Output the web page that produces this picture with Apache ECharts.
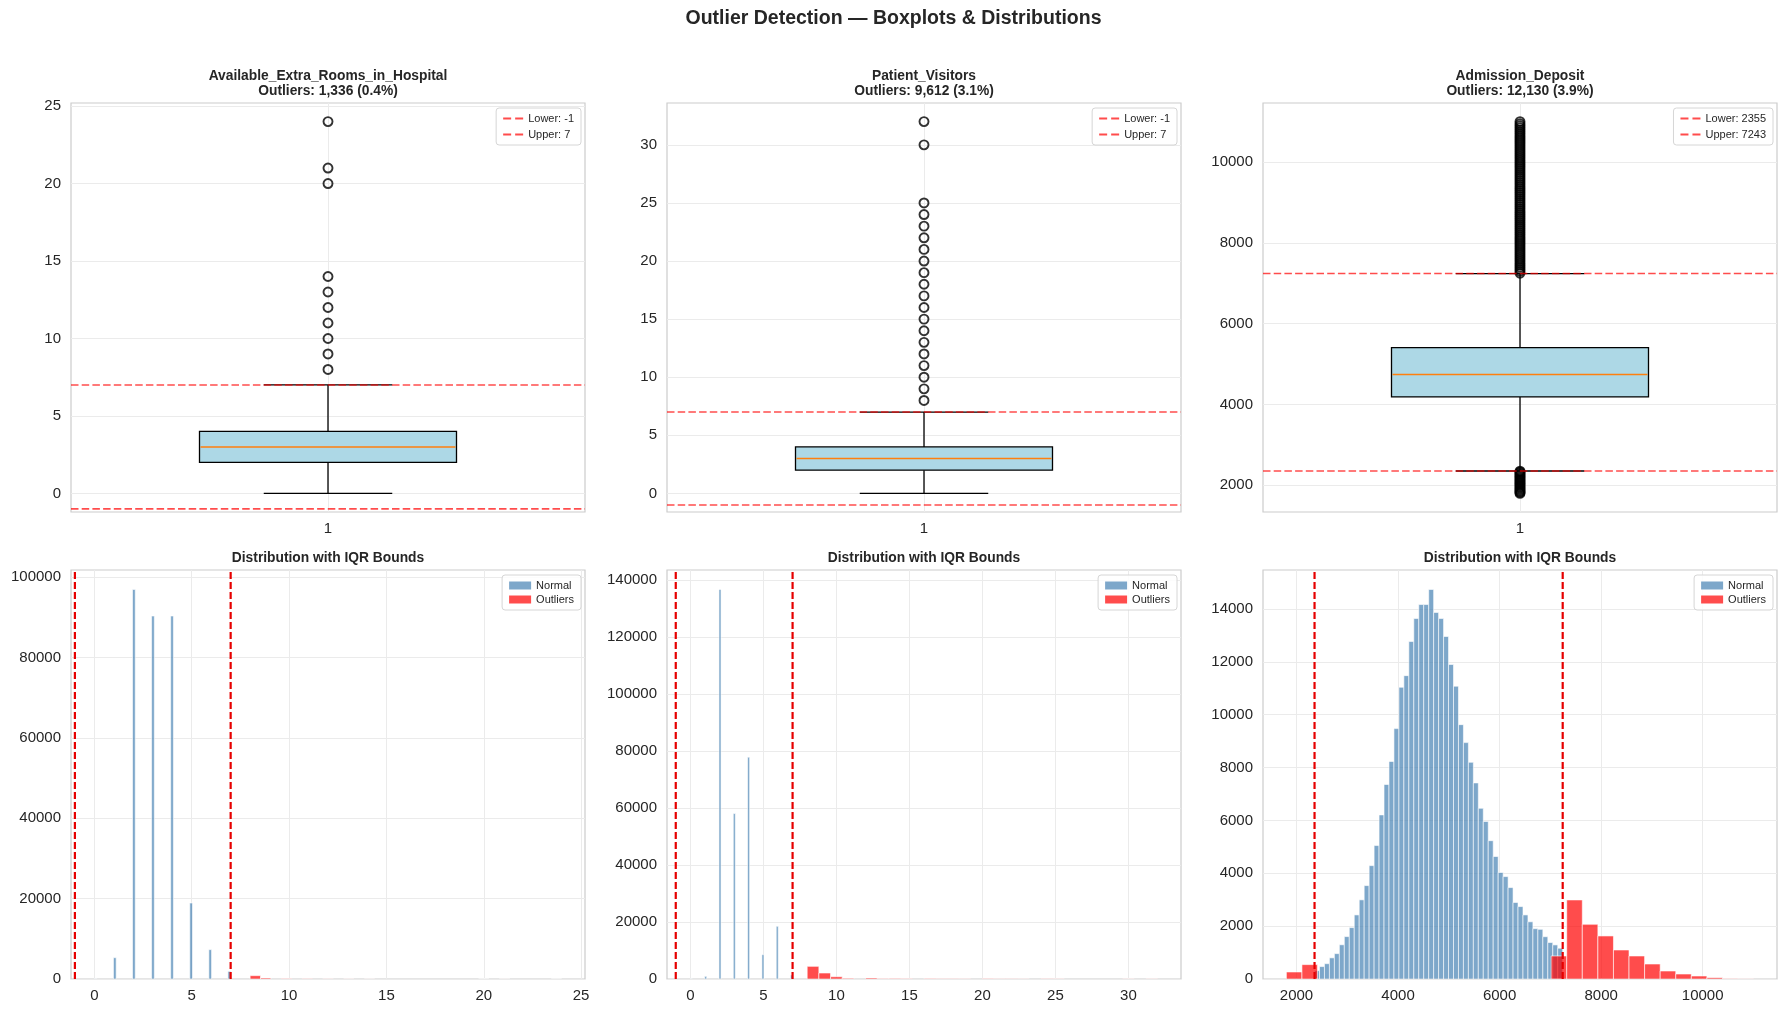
<!DOCTYPE html>
<html>
<head>
<meta charset="utf-8">
<script src="https://cdn.jsdelivr.net/npm/echarts@6.0.0/dist/echarts.min.js"></script>
<style>
html,body{margin:0;padding:0;background:#ffffff;}
#c{width:1787px;height:1013px;}
</style>
</head>
<body>
<div id="c"></div>
<script>
// ---------------- DATA ----------------
const variableNames = ['Available_Extra_Rooms_in_Hospital', 'Patient_Visitors', 'Admission_Deposit'];
const outlierSummary = ['Outliers: 1,336 (0.4%)', 'Outliers: 9,612 (3.1%)', 'Outliers: 12,130 (3.9%)'];

// boxplot stats: [lower whisker, Q1, median, Q3, upper whisker]
const roomsBox = [0, 2, 3, 4, 7];
const visitorsBox = [0, 2, 3, 4, 7];
const depositBox = [2355, 4188, 4745, 5410, 7243];

// IQR bounds [lower, upper]
const roomsBounds = [-1, 7];
const visitorsBounds = [-1, 7];
const depositBounds = [2355, 7243];

// outlier points shown by the boxplots
const roomsOutliers = [8, 9, 10, 11, 12, 13, 14, 20, 21, 24];
const visitorsOutliers = [8, 9, 10, 11, 12, 13, 14, 15, 16, 17, 18, 19, 20, 21, 22, 23, 24, 25, 30, 32];
const depositOutliers = [1800, 1825, 1850, 1880, 1910, 1940, 1970, 2000, 2030, 2060, 2090, 2120, 2150, 2180, 2210, 2240, 2270, 2300, 2330, 2350,
  7250, 7300, 7350, 7400, 7450, 7500, 7550, 7600, 7650, 7700, 7750, 7800, 7850, 7900, 7950, 8000, 8050, 8100, 8150, 8200,
  8250, 8300, 8350, 8400, 8450, 8500, 8550, 8600, 8650, 8700, 8750, 8800, 8850, 8900, 8950, 9000, 9050, 9100, 9150, 9200,
  9250, 9300, 9350, 9400, 9450, 9500, 9550, 9600, 9650, 9700, 9750, 9800, 9850, 9900, 9950, 10000, 10050, 10100, 10150,
  10200, 10250, 10300, 10350, 10400, 10450, 10500, 10550, 10600, 10650, 10700, 10750, 10800, 10850, 10900, 10950, 11004];

// histogram of discrete values (value -> count)
const roomsNormalValues = [0, 1, 2, 3, 4, 5, 6, 7];
const roomsNormalCounts = [40, 5300, 96900, 90300, 90300, 18900, 7300, 1900];
const roomsOutlierValues = [8, 9, 10, 11, 12, 13, 14, 20, 21, 24];
const roomsOutlierCounts = [830, 250, 110, 60, 35, 20, 12, 6, 8, 5];

const visitorsNormalValues = [0, 1, 2, 3, 4, 5, 6, 7];
const visitorsNormalCounts = [60, 940, 136700, 58060, 77840, 8545, 18500, 1400];
const visitorsOutlierValues = [8, 9, 10, 11, 12, 13, 14, 15, 16, 17, 18, 19, 20, 21, 22, 23, 24, 25, 30, 32];
const visitorsOutlierCounts = [4450, 2100, 800, 250, 350, 150, 200, 120, 180, 80, 90, 60, 150, 60, 70, 50, 80, 60, 50, 50];

// histogram bins of Admission_Deposit (50 normal bins, 30 outlier bins)
const depositNormalRange = [2355, 7243];
const depositNormalCounts = [316, 470, 580, 800, 960, 1295, 1605, 1945, 2425, 2995,
  3535, 4290, 5050, 6210, 7360, 8230, 9475, 11040, 11480, 12770,
  13640, 14170, 14170, 14740, 13870, 13640, 12960, 11900, 11080, 9625,
  8945, 8200, 7420, 6460, 5960, 5235, 4635, 4030, 3875, 3460,
  2895, 2740, 2425, 2165, 1905, 1880, 1600, 1380, 1290, 1165];
const depositOutlierRange = [1800, 11004];
const depositOutlierCounts = [266, 544, 0, 0, 0, 0, 0, 0, 0, 0,
  0, 0, 0, 0, 0, 0, 0, 871, 2992, 2071,
  1629, 1098, 871, 568, 303, 189, 114, 50, 13, 5];

// tick labels
const roomsTicks = [0, 5, 10, 15, 20, 25];
const visitorsTicks = [0, 5, 10, 15, 20, 25, 30];
const depositTicks = [2000, 4000, 6000, 8000, 10000];
const roomsCountTicks = [0, 20000, 40000, 60000, 80000, 100000];
const visitorsCountTicks = [0, 20000, 40000, 60000, 80000, 100000, 120000, 140000];
const depositCountTicks = [0, 2000, 4000, 6000, 8000, 10000, 12000, 14000];
const boxTicks = [1];

// ---------------- BUILD ----------------
const FONT = '"Liberation Sans", Arial, Helvetica, sans-serif';
const TXT = '#262626';
const NORMAL_C = 'rgba(70,130,180,0.7)';
const OUT_C = 'rgba(255,0,0,0.7)';
const BOUND_C = 'rgba(255,0,0,0.7)';

// bins from discrete values: equal-width bins across [lo, hi]
function binsFromValues(values, counts, nBins) {
  const lo = Math.min.apply(null, values), hi = Math.max.apply(null, values);
  const w = (hi - lo) / nBins;
  const acc = new Array(nBins).fill(0);
  values.forEach((v, i) => {
    let b = Math.floor((v - lo) / w);
    if (b >= nBins) b = nBins - 1;
    acc[b] += counts[i];
  });
  const out = [];
  acc.forEach((c, b) => { if (c > 0) out.push([lo + b * w, lo + (b + 1) * w, c]); });
  return out;
}
function binsFromCounts(range, counts) {
  const w = (range[1] - range[0]) / counts.length;
  const out = [];
  counts.forEach((c, b) => { if (c > 0) out.push([range[0] + b * w, range[0] + (b + 1) * w, c]); });
  return out;
}

const vars = [
  { box: roomsBox, bounds: roomsBounds, outliers: roomsOutliers, ticks: roomsTicks, cticks: roomsCountTicks,
    normal: binsFromValues(roomsNormalValues, roomsNormalCounts, 50),
    outl: binsFromValues(roomsOutlierValues, roomsOutlierCounts, 30) },
  { box: visitorsBox, bounds: visitorsBounds, outliers: visitorsOutliers, ticks: visitorsTicks, cticks: visitorsCountTicks,
    normal: binsFromValues(visitorsNormalValues, visitorsNormalCounts, 50),
    outl: binsFromValues(visitorsOutlierValues, visitorsOutlierCounts, 30) },
  { box: depositBox, bounds: depositBounds, outliers: depositOutliers, ticks: depositTicks, cticks: depositCountTicks,
    normal: binsFromCounts(depositNormalRange, depositNormalCounts),
    outl: binsFromCounts(depositOutlierRange, depositOutlierCounts) }
];

// data limits with 5% margins (matplotlib-like)
vars.forEach(v => {
  const lo = Math.min(v.box[0], Math.min.apply(null, v.outliers));
  const hi = Math.max(v.box[4], Math.max.apply(null, v.outliers));
  const span = hi - lo;
  v.vmin = lo - 0.05 * span;
  v.vmax = hi + 0.05 * span;
  let maxC = 0;
  v.normal.concat(v.outl).forEach(d => { if (d[2] > maxC) maxC = d[2]; });
  v.cmax = maxC * 1.05;
});

const gridPos = [
  { left: 71, top: 103 }, { left: 667, top: 103 }, { left: 1263, top: 103 },
  { left: 71, top: 570 }, { left: 667, top: 570 }, { left: 1263, top: 570 }
];
const grid = gridPos.map(g => ({ left: g.left, top: g.top, width: 514, height: 409,
  show: true, borderColor: '#cccccc', borderWidth: 1.2, backgroundColor: '#ffffff' }));

function axis(gi, min, max, ticks, margin) {
  return {
    type: 'value', gridIndex: gi, min: min, max: max,
    axisLine: { show: false },
    axisTick: { show: false, customValues: ticks },
    axisLabel: { customValues: ticks, color: TXT, fontSize: 15, fontFamily: FONT, margin: margin,
      formatter: function (val) { return String(val); } },
    splitLine: { show: true, lineStyle: { color: '#ebebeb', width: 1 } }
  };
}

const xAxis = [], yAxis = [];
vars.forEach((v, k) => {
  xAxis.push(axis(k, 0.5, 1.5, boxTicks, 9));
  yAxis.push(axis(k, v.vmin, v.vmax, v.ticks, 10));
});
vars.forEach((v, k) => {
  xAxis.push(axis(3 + k, v.vmin, v.vmax, v.ticks, 9));
  yAxis.push(axis(3 + k, 0, v.cmax, v.cticks, 10));
});

function boxRender(params, api) {
  const x = api.value(0);
  const mn = api.value(1), q1 = api.value(2), md = api.value(3), q3 = api.value(4), mx = api.value(5);
  const c = (xx, yy) => api.coord([xx, yy]);
  const st = { stroke: '#000', lineWidth: 1.3 };
  const pMin = c(x, mn), pQ1 = c(x, q1), pQ3 = c(x, q3), pMax = c(x, mx);
  const bL = c(x - 0.25, q3), bR = c(x + 0.25, q1);
  const capL = c(x - 0.125, mn), capR = c(x + 0.125, mn);
  const capL2 = c(x - 0.125, mx), capR2 = c(x + 0.125, mx);
  const mL = c(x - 0.25, md), mR = c(x + 0.25, md);
  return { type: 'group', children: [
    { type: 'line', shape: { x1: pMin[0], y1: pMin[1], x2: pQ1[0], y2: pQ1[1] }, style: st },
    { type: 'line', shape: { x1: pQ3[0], y1: pQ3[1], x2: pMax[0], y2: pMax[1] }, style: st },
    { type: 'line', shape: { x1: capL[0], y1: capL[1], x2: capR[0], y2: capR[1] }, style: st },
    { type: 'line', shape: { x1: capL2[0], y1: capL2[1], x2: capR2[0], y2: capR2[1] }, style: st },
    { type: 'rect', shape: { x: bL[0], y: bL[1], width: bR[0] - bL[0], height: bR[1] - bL[1] },
      style: { fill: '#add8e6', stroke: '#000', lineWidth: 1.3 } },
    { type: 'line', shape: { x1: mL[0] + 1, y1: mL[1], x2: mR[0] - 1, y2: mR[1] }, style: { stroke: '#ff7f0e', lineWidth: 1.4 } }
  ] };
}

function histRender(color) {
  return function (params, api) {
    const p0 = api.coord([api.value(0), 0]);
    const p1 = api.coord([api.value(1), api.value(2)]);
    return { type: 'rect', shape: { x: p0[0], y: p1[1], width: p1[0] - p0[0], height: p0[1] - p1[1] },
      style: { fill: color, stroke: '#ffffff', lineWidth: 0.6 } };
  };
}

const series = [];
vars.forEach((v, k) => {
  series.push({ type: 'custom', xAxisIndex: k, yAxisIndex: k, renderItem: boxRender,
    data: [[1].concat(v.box)], encode: { x: 0, y: [1, 2, 3, 4, 5] }, z: 2 });
  series.push({ type: 'scatter', xAxisIndex: k, yAxisIndex: k, symbol: 'circle', symbolSize: 9,
    itemStyle: { color: 'rgba(0,0,0,0)', borderColor: '#000', borderWidth: 1.9 },
    data: v.outliers.map(o => [1, o]), z: 3 });
  series.push({ type: 'line', name: 'Lower: ' + v.bounds[0], xAxisIndex: k, yAxisIndex: k, symbol: 'none',
    lineStyle: { color: BOUND_C, width: 1.6, type: [7.5, 3.2] }, itemStyle: { color: BOUND_C },
    data: [[0.5, v.bounds[0]], [1.5, v.bounds[0]]], z: 4 });
  series.push({ type: 'line', name: 'Upper: ' + v.bounds[1], xAxisIndex: k, yAxisIndex: k, symbol: 'none',
    lineStyle: { color: BOUND_C, width: 1.6, type: [7.5, 3.2] }, itemStyle: { color: BOUND_C },
    data: [[0.5, v.bounds[1]], [1.5, v.bounds[1]]], z: 4 });
});
vars.forEach((v, k) => {
  const ai = 3 + k;
  series.push({ type: 'custom', name: 'Normal', xAxisIndex: ai, yAxisIndex: ai, renderItem: histRender(NORMAL_C),
    itemStyle: { color: NORMAL_C }, data: v.normal, encode: { x: [0, 1], y: 2 }, clip: true, z: 2 });
  series.push({ type: 'custom', name: 'Outliers', xAxisIndex: ai, yAxisIndex: ai, renderItem: histRender(OUT_C),
    itemStyle: { color: OUT_C }, data: v.outl, encode: { x: [0, 1], y: 2 }, clip: true, z: 3 });
  v.bounds.forEach(b => {
    series.push({ type: 'line', xAxisIndex: ai, yAxisIndex: ai, symbol: 'none', silent: true,
      lineStyle: { color: '#e60000', width: 2.2, type: [7, 3] },
      data: [[b, 0], [b, v.cmax]], z: 5 });
  });
});

const legendBase = {
  orient: 'vertical', itemGap: 3, padding: [5, 7, 5, 7], selectedMode: false,
  borderColor: '#d6d6d6', borderWidth: 1, borderRadius: 3, backgroundColor: 'rgba(255,255,255,0.85)',
  textStyle: { fontSize: 11, color: TXT, fontFamily: FONT }
};
const DASH_ICON = 'path://M0,0h8v2h-8z M12,0h8v2h-8z';
const legendRights = [1206, 610, 14];
const legend = [];
vars.forEach((v, k) => {
  legend.push(Object.assign({}, legendBase, { right: legendRights[k], top: 108, itemWidth: 20, itemHeight: 2,
    icon: DASH_ICON, itemGap: 5, data: ['Lower: ' + v.bounds[0], 'Upper: ' + v.bounds[1]] }));
});
vars.forEach((v, k) => {
  legend.push(Object.assign({}, legendBase, { right: legendRights[k], top: 575, itemWidth: 22, itemHeight: 8, icon: 'rect',
    data: ['Normal', 'Outliers'] }));
});

const centers = [328, 924, 1520];
const title = [{ text: 'Outlier Detection \u2014 Boxplots & Distributions', left: 'center', top: 4,
  textStyle: { fontSize: 19.5, fontWeight: 'bold', color: TXT, fontFamily: FONT } }];
variableNames.forEach((n, k) => {
  title.push({ text: n + '\n' + outlierSummary[k], left: centers[k], top: 68, textAlign: 'center', padding: 0,
    textStyle: { fontSize: 13.8, fontWeight: 'bold', color: TXT, fontFamily: FONT, lineHeight: 15.5 } });
  title.push({ text: 'Distribution with IQR Bounds', left: centers[k], top: 550, textAlign: 'center', padding: 0,
    textStyle: { fontSize: 13.8, fontWeight: 'bold', color: TXT, fontFamily: FONT, lineHeight: 15.5 } });
});

const chart = echarts.init(document.getElementById('c'));
chart.setOption({
  animation: false,
  backgroundColor: '#ffffff',
  title: title,
  legend: legend,
  grid: grid,
  xAxis: xAxis,
  yAxis: yAxis,
  series: series
});
</script>
</body>
</html>
